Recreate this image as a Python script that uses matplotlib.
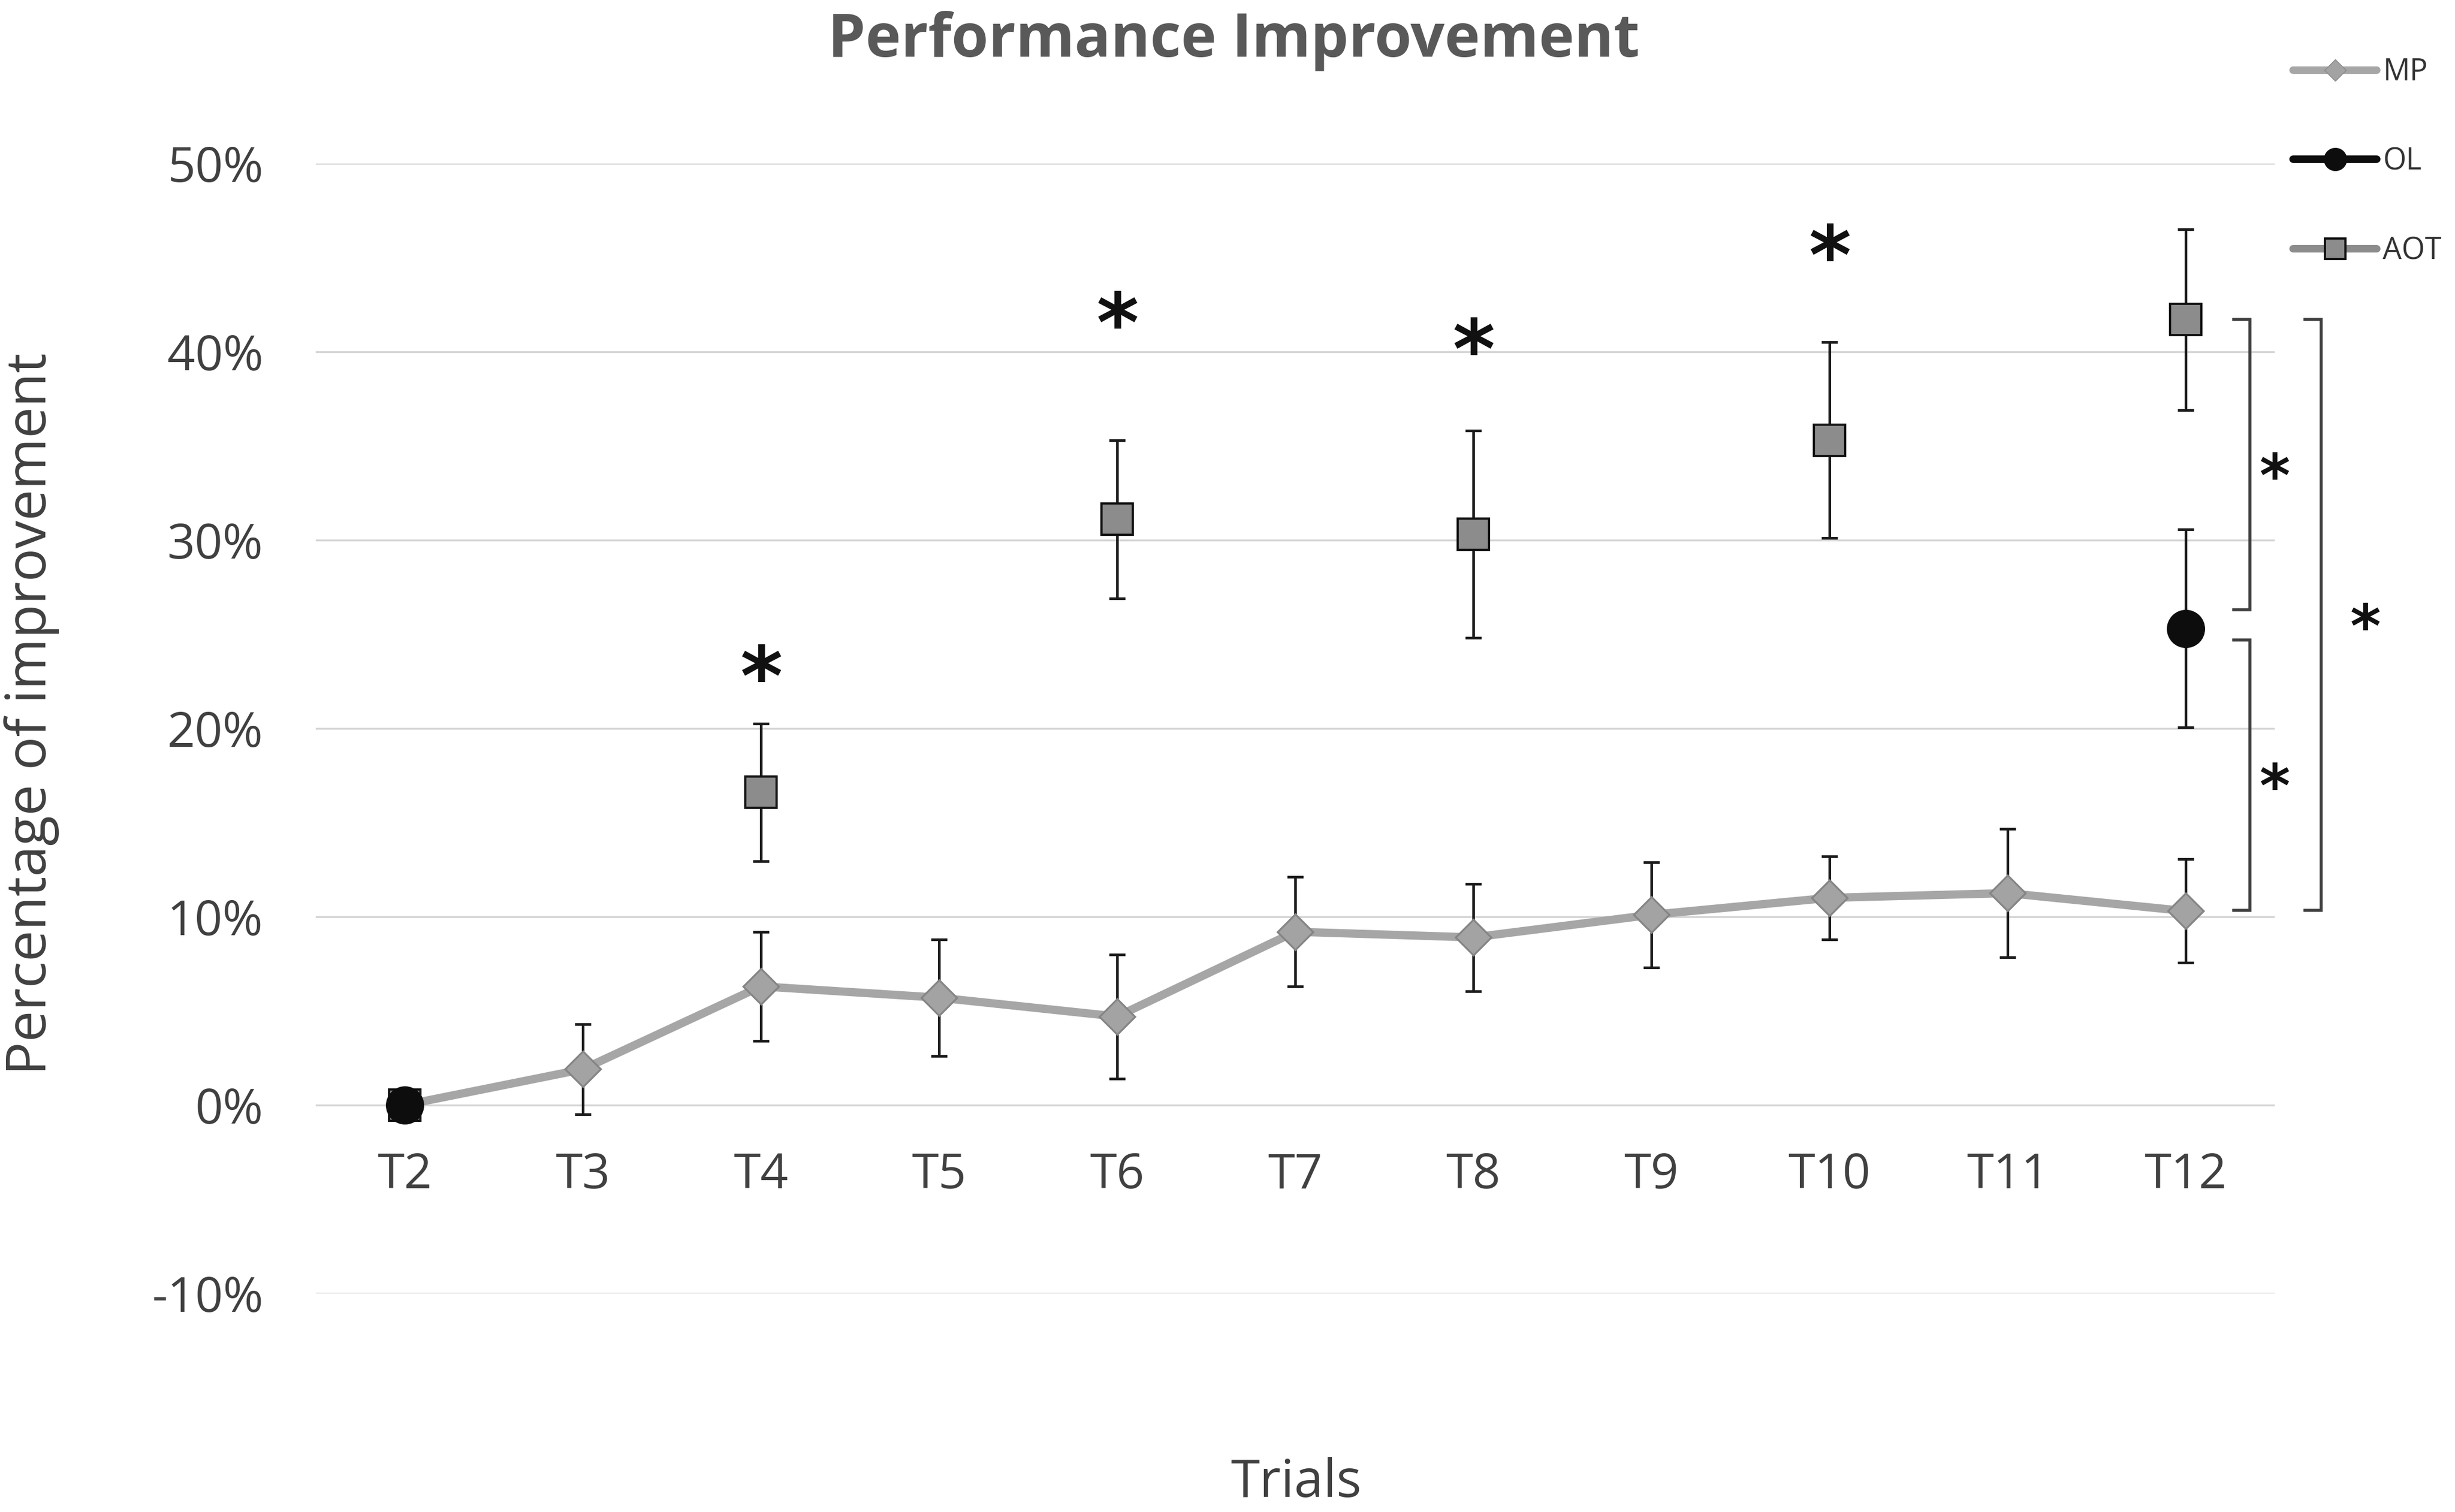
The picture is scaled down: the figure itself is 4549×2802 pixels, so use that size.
import numpy as np
import matplotlib.pyplot as plt
from matplotlib.lines import Line2D

plt.rcParams['font.family'] = ['Open Sans', 'DejaVu Sans']
plt.rcParams['axes.unicode_minus'] = False

# values (fractions)
trials = ['T2', 'T3', 'T4', 'T5', 'T6', 'T7', 'T8', 'T9', 'T10', 'T11', 'T12']
nan = np.nan
mp_mean = [0.0, 0.019, 0.063, 0.057, 0.047, 0.092, 0.089, 0.101, 0.110, 0.1125, 0.103]
mp_err = [0.0, 0.024, 0.029, 0.031, 0.033, 0.029, 0.0285, 0.028, 0.022, 0.034, 0.0275]
aot_mean = [0.0, nan, 0.166, nan, 0.311, nan, 0.303, nan, 0.353, nan, 0.417]
aot_err = [0.0, nan, 0.0365, nan, 0.042, nan, 0.055, nan, 0.052, nan, 0.048]
ol_mean = [0.0, nan, nan, nan, nan, nan, nan, nan, nan, nan, 0.253]
ol_err = [0.0, nan, nan, nan, nan, nan, nan, nan, nan, nan, 0.0525]

yticks = [-0.10, 0.0, 0.10, 0.20, 0.30, 0.40, 0.50]

# significance marks above AOT points
star_trials = ['T4', 'T6', 'T8', 'T10']
star_y = [0.2325, 0.42, 0.406, 0.456]

# brackets at T12: (top, bottom, x offset from T12 in category units)
bracket_top = [0.417, 0.247, 0.417]
bracket_bottom = [0.263, 0.1033, 0.1033]
bracket_dx = [0.36, 0.36, 0.76]

x = np.arange(len(trials))
xpos = {t: i for i, t in enumerate(trials)}

fig = plt.figure(figsize=(45.49, 28.02), dpi=100)
ax = fig.add_axes([0.1286, 0.1446, 0.798, 0.7474])
ax.set_xlim(-0.5, 10.5)
ax.set_ylim(-0.10, 0.50)

ax.set_yticks(yticks)
ax.set_yticklabels([f'{v:.0%}' for v in yticks])
ax.yaxis.grid(True, color='#d4d4d4', linewidth=2.5)
ax.set_axisbelow(True)
for s in ['top', 'right', 'left']:
    ax.spines[s].set_visible(False)
ax.spines['bottom'].set_position(('data', 0))
ax.spines['bottom'].set_visible(False)
ax.set_xticks(x)
ax.set_xticklabels(trials)
ax.tick_params(axis='x', length=0, pad=62, labelsize=65, labelcolor='#404040')
ax.tick_params(axis='y', length=0, pad=70, labelsize=65, labelcolor='#404040')

# error bars
err_kw = dict(fmt='none', ecolor='#1a1a1a', elinewidth=3.5, capsize=11, capthick=3.5, zorder=3)
ax.errorbar(x, mp_mean, yerr=mp_err, **err_kw)
ax.errorbar(x, aot_mean, yerr=aot_err, **err_kw)
ax.errorbar(x, ol_mean, yerr=ol_err, **err_kw)

# series
ax.plot(x, mp_mean, color='#a6a6a6', linewidth=11, marker='D', markersize=34,
        markerfacecolor='#a3a3a3', markeredgecolor='#858585', markeredgewidth=2.5,
        solid_capstyle='round', zorder=4)
ax.plot(x, aot_mean, linestyle='none', marker='s', markersize=42,
        markerfacecolor='#8c8c8c', markeredgecolor='#111111', markeredgewidth=3, zorder=5)
ax.plot(x, ol_mean, linestyle='none', marker='o', markersize=50,
        markerfacecolor='#0d0d0d', markeredgecolor='#0d0d0d', zorder=6)

star_shift = 0.008
for t, y in zip(star_trials, star_y):
    ax.text(xpos[t], y - star_shift, '*', fontsize=108, fontweight='bold', family='DejaVu Sans',
            ha='center', va='center', color='#111111')

x12 = xpos['T12']
for top, bot, dx in zip(bracket_top, bracket_bottom, bracket_dx):
    xv = x12 + dx
    ax.plot([xv - 0.09, xv, xv, xv - 0.09], [top, top, bot, bot], color='#404040',
            linewidth=4, clip_on=False, solid_joinstyle='miter')
    ax.text(xv + 0.14 + (0.11 if dx > 0.5 else 0), (top + bot) / 2 - star_shift, '*',
            fontsize=78, fontweight='bold', family='DejaVu Sans', ha='center', va='center',
            color='#111111', clip_on=False)

fig.text(0.5025, 0.973, 'Performance Improvement', fontsize=80, fontweight='bold',
         color='#595959', ha='center', va='center')
fig.text(0.0128, 0.528, 'Percentage of improvement', fontsize=74, rotation=90,
         color='#404040', ha='center', va='center')
fig.text(0.528, 0.019, 'Trials', fontsize=70, color='#404040', ha='center', va='center')

handles = [
    Line2D([], [], color='#a6a6a6', linewidth=10, marker='D', markersize=20,
           markerfacecolor='#a3a3a3', markeredgecolor='#858585', solid_capstyle='round'),
    Line2D([], [], color='#0d0d0d', linewidth=10, marker='o', markersize=30,
           markerfacecolor='#0d0d0d', solid_capstyle='round'),
    Line2D([], [], color='#8c8c8c', linewidth=10, marker='s', markersize=28,
           markerfacecolor='#8c8c8c', markeredgecolor='#111111', markeredgewidth=3,
           solid_capstyle='round'),
]
fig.legend(handles, ['MP', 'OL', 'AOT'], loc='upper left', bbox_to_anchor=(0.934, 0.962),
           frameon=False, fontsize=40, labelspacing=1.95, handlelength=2.8,
           handletextpad=0.2, borderpad=0, borderaxespad=0, labelcolor='#333333')

fig.savefig('out.png', dpi=100, facecolor='white')
